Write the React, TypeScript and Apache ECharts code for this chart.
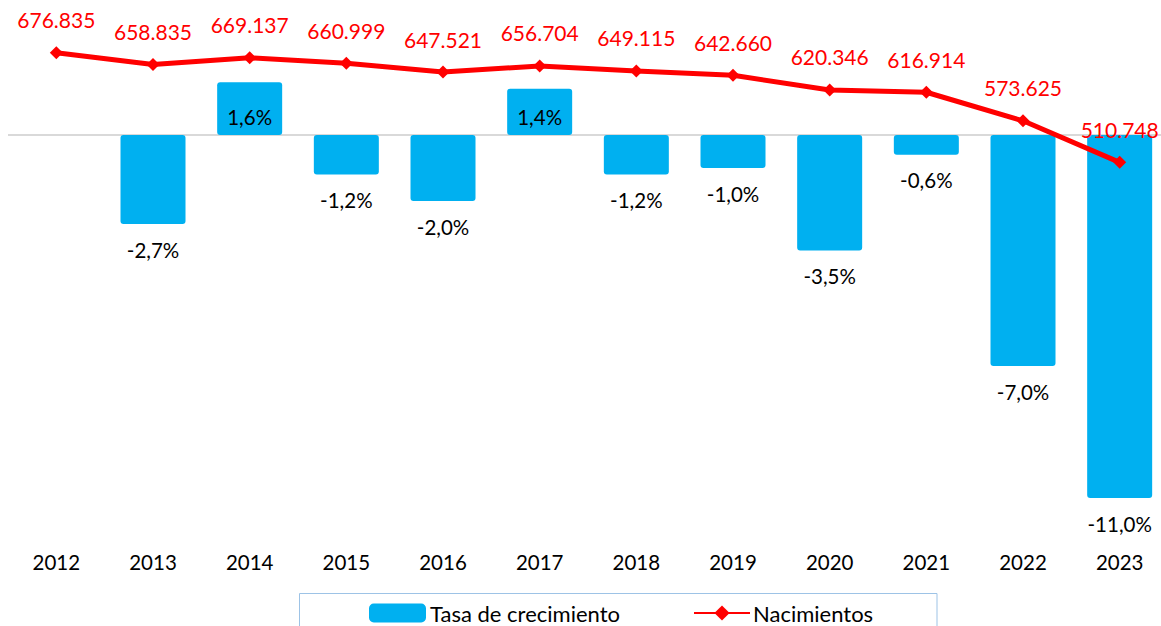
import React, { useEffect, useRef } from "react";
import * as echarts from "echarts";

const years = ["2012", "2013", "2014", "2015", "2016", "2017", "2018", "2019", "2020", "2021", "2022", "2023"];
const growthRate: (number | null)[] = [null, -2.7, 1.6, -1.2, -2.0, 1.4, -1.2, -1.0, -3.5, -0.6, -7.0, -11.0];
const births = [676835, 658835, 669137, 660999, 647521, 656704, 649115, 642660, 620346, 616914, 573625, 510748];

const FONT = "Lato, 'Open Sans', sans-serif";

const fmtPct = (v: number) => v.toFixed(1).replace(".", ",") + "%";
const fmtThousands = (v: number) => String(v).replace(/\B(?=(\d{3})+(?!\d))/g, ".");

export default function App() {
  const ref = useRef<HTMLDivElement>(null);
  useEffect(() => {
    if (!ref.current) return;
    const chart = echarts.init(ref.current, undefined, { renderer: "svg" });
    const barData = growthRate.map((v) =>
      v === null
        ? null
        : {
            value: v,
            label:
              v >= 0
                ? { position: "insideBottom", distance: 8 }
                : { position: "bottom", distance: 15 },
          }
    );
    const legendText = { fontSize: 22, lineHeight: 20, color: "#000", fontFamily: FONT };
    chart.setOption({
      animation: false,
      textStyle: { fontFamily: FONT },
      grid: { left: 8, top: 3, width: 1160, height: 528, outerBoundsMode: "none", containLabel: false },
      legend: [
        {
          left: 369,
          top: 602,
          padding: 0,
          itemWidth: 57,
          itemHeight: 19,
          textStyle: { ...legendText, padding: [0, 0, 0, -1] },
          data: ["Tasa de crecimiento"],
        },
        {
          left: 693,
          top: 602,
          padding: 0,
          itemWidth: 56,
          itemHeight: 19,
          textStyle: { ...legendText, padding: [0, 0, 0, -2] },
          data: ["Nacimientos"],
        },
      ],
      graphic: [
        {
          type: "rect",
          shape: { x: 299.5, y: 593.5, width: 637.5, height: 60 },
          style: { fill: "none", stroke: "#9DC3E6", lineWidth: 1 },
          silent: true,
        },
      ],
      xAxis: {
        type: "category",
        data: years,
        axisLine: { show: false, onZero: false },
        axisTick: { show: false },
        axisLabel: { fontSize: 20.5, color: "#000", margin: 20, fontFamily: FONT },
      },
      yAxis: [
        { type: "value", min: -12, max: 4, show: false, splitLine: { show: false } },
        { type: "value", min: -47790, max: 752130, show: false, splitLine: { show: false } },
      ],
      series: [
        {
          name: "Tasa de crecimiento",
          type: "bar",
          yAxisIndex: 0,
          barWidth: 65,
          data: barData,
          itemStyle: { color: "#00B0F0", borderRadius: 3 },
          label: {
            show: true,
            fontSize: 20.5,
            color: "#000",
            fontFamily: FONT,
            formatter: (p: any) => fmtPct(p.value),
          },
          markLine: {
            silent: true,
            symbol: "none",
            label: { show: false },
            lineStyle: { color: "#D9D9D9", width: 2, type: "solid" },
            data: [{ yAxis: 0 }],
            z: 0,
          },
        },
        {
          name: "Nacimientos",
          type: "line",
          yAxisIndex: 1,
          data: births,
          symbol: "diamond",
          symbolSize: 13,
          lineStyle: { color: "#FF0000", width: 5 },
          itemStyle: { color: "#FF0000" },
          z: 5,
          label: {
            show: true,
            position: "top",
            distance: 16,
            fontSize: 21,
            color: "#FF0000",
            fontFamily: FONT,
            formatter: (p: any) => fmtThousands(p.value),
          },
        },
      ],
    });
    return () => chart.dispose();
  }, []);
  return (
    <div
      ref={ref}
      style={{ position: "absolute", left: 0, top: 0, width: 1161, height: 626, background: "#fff" }}
    />
  );
}
